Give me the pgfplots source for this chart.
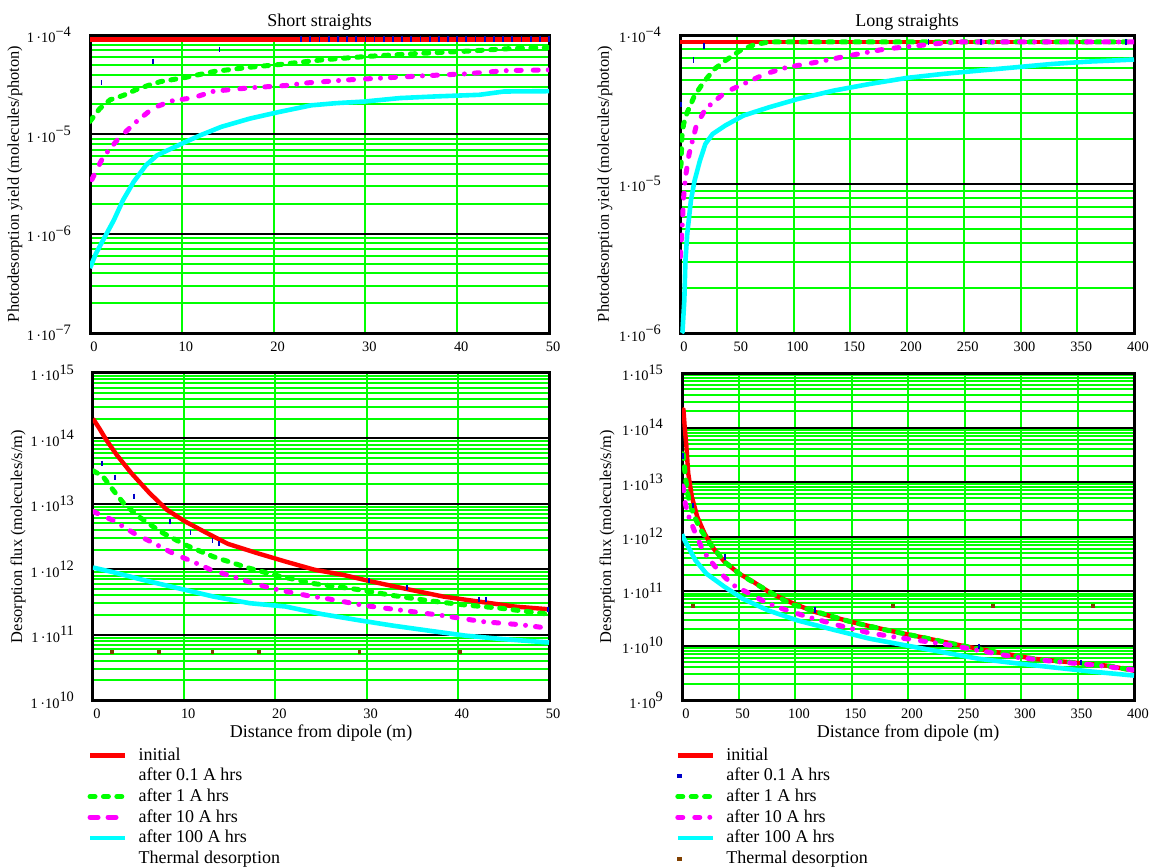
\documentclass[border=0pt]{standalone}
\usepackage{fontspec}
\setmainfont{Liberation Serif}
\usepackage{pgfplots}
\pgfplotsset{compat=1.18}
\definecolor{grn}{HTML}{00FF00}
\definecolor{cyn}{HTML}{00FFFF}
\definecolor{mag}{HTML}{FF00FF}
\definecolor{rd}{HTML}{FF0000}
\definecolor{blu}{HTML}{0000C8}
\definecolor{brn}{HTML}{804000}

% Mathcad style tick labels 1 .10^n
\newcommand{\ex}[1]{1\,·10\raisebox{3.3pt}{#1}}
\newcommand{\exr}[1]{1·10\raisebox{3.3pt}{#1}}

\pgfplotsset{
  panel/.style={
    scale only axis,
    font=\fontsize{9}{11}\selectfont,
    tick label style={font=\fontsize{7.2}{8}\selectfont},
    axis line style={line width=1.5pt},
    xmajorgrids, ymajorgrids, yminorgrids,
    major x grid style={grn, line width=1pt},
    major y grid style={black, line width=1pt},
    minor y grid style={grn, line width=1pt},
    major tick length=0pt, minor tick length=0pt,
    /pgf/number format/assume math mode=true,
    xticklabel style={yshift=-1pt, xshift=2pt},
    yticklabel style={xshift=-6pt},
    title style={yshift=-7pt},
    xlabel style={yshift=4pt},
    every axis y label/.style={at={([xshift=-37.5pt]rel axis cs:0,0.5)}, rotate=90,
      anchor=center, font=\fontsize{8.2}{10}\selectfont},
    legend cell align=left,
    legend image code/.code={\draw[##1] (0pt,0pt) -- (17.5pt,0pt); \path (21pt,0pt);},
    legend style={draw=none, fill=none, anchor=north west,
      font=\fontsize{9}{11}\selectfont, row sep=-1.5pt},
  },
  ini/.style={rd, line width=2.2pt},
  a01/.style={only marks, mark=|, mark size=1.3pt, blu, line width=0.9pt},
  a1/.style={grn, line width=2.5pt, line cap=round, dash pattern=on 2.5pt off 4.2pt},
  a10/.style={mag, line width=2.5pt, line cap=round, dash pattern=on 2.5pt off 6pt on 2.5pt off 5pt on 0pt off 5pt},
  a100/.style={cyn, line width=2.3pt},
  therm/.style={only marks, mark=square*, mark size=0.7pt, brn},
}

\begin{document}
\begin{tikzpicture}
\useasboundingbox (0pt,0pt) rectangle (575pt,-433.5pt);

% ---------- short straights, yield ----------
\begin{semilogyaxis}[panel, at={(45pt,-17.5pt)}, anchor=north west,
  width=229.5pt, height=149pt,
  xmin=0, xmax=50, xtick={0,10,...,50},
  ymin=1e-7, ymax=1e-4, ytick={1e-7,1e-6,1e-5,1e-4},
  yticklabels={\ex{−7},\ex{−6},\ex{−5},\ex{−4}},
  title={Short straights},
  ylabel={Photodesorption yield (molecules/photon)}]
\addplot[ini] coordinates {(0,9.05e-5) (50,9.05e-5)};
\addplot[a01] coordinates {(1.25,3.3e-5) (6.9,5.44e-5) (14.1,7.18e-5)
  (23,9.1e-5) (24,9.1e-5) (25,9.1e-5) (26,9.1e-5) (27,9.1e-5) (28,9.1e-5) (29,9.1e-5)
  (30,9.1e-5) (31,9.1e-5) (32,9.1e-5) (33,9.1e-5) (34,9.1e-5) (35,9.1e-5) (36,9.1e-5)
  (37,9.1e-5) (38,9.1e-5) (39,9.1e-5) (40,9.1e-5) (41,9.1e-5) (42,9.1e-5) (43,9.1e-5)
  (44,9.1e-5) (45,9.1e-5) (46,9.1e-5) (47,9.1e-5) (48,9.1e-5) (49,9.1e-5) (50,9.1e-5)};
\addplot[a1] coordinates {(0,1.35e-5) (1.05,1.81e-5) (2.2,2.23e-5) (3.6,2.46e-5) (5.0,2.81e-5)
  (6.3,3.10e-5) (7.7,3.40e-5) (10.2,3.71e-5) (13.5,4.29e-5) (17.4,4.74e-5) (20.6,5.04e-5)
  (25.2,5.61e-5) (30.3,6.1e-5) (36.2,6.55e-5) (40.8,6.86e-5) (46.3,7.35e-5) (50,7.46e-5)};
\addplot[a10] coordinates {(0.2,3.5e-6) (1.44,5.93e-6) (3.1,9.05e-6) (5.0,1.33e-5) (6.9,1.85e-5)
  (9.05,2.19e-5) (11.2,2.33e-5) (13.5,2.72e-5) (17.4,2.94e-5) (21.3,3.10e-5) (23.7,3.30e-5)
  (28.0,3.53e-5) (32.3,3.71e-5) (36.2,3.88e-5) (40.8,4.06e-5) (45.5,4.39e-5) (50,4.45e-5)};
\addplot[a100] coordinates {(0,4.5e-7) (0.66,6.35e-7) (1.83,1.01e-6) (2.6,1.37e-6) (3.6,2.18e-6)
  (4.76,3.33e-6) (6.1,4.89e-6) (7.3,6.15e-6) (8.85,7.18e-6) (10.4,8.38e-6) (12.0,9.77e-6)
  (14.3,1.19e-5) (17.4,1.44e-5) (20.6,1.68e-5) (24.1,1.96e-5) (26.8,2.06e-5) (29.9,2.14e-5)
  (33.8,2.32e-5) (37.7,2.41e-5) (42.4,2.50e-5) (45.1,2.70e-5) (50,2.72e-5)};
\end{semilogyaxis}

% ---------- long straights, yield ----------
\begin{semilogyaxis}[panel, at={(340pt,-17.5pt)}, anchor=north west,
  width=227pt, height=149pt,
  xmin=0, xmax=400, xtick={0,50,...,400},
  ymin=1e-6, ymax=1e-4, ytick={1e-6,1e-5,1e-4},
  yticklabels={\exr{−6},\exr{−5},\exr{−4}},
  title={Long straights},
  ylabel={Photodesorption yield (molecules/photon)}]
\addplot[ini] coordinates {(0,8.98e-5) (400,8.98e-5)};
\addplot[a01] coordinates {(1,3.41e-5) (11.8,6.8e-5) (20.8,8.43e-5) (219,8.98e-5) (265,8.98e-5) (393,8.98e-5)};
\addplot[a1] coordinates {(0.5,1.3e-5) (1.0,1.37e-5) (1.6,2.06e-5) (3.2,2.53e-5) (6.4,3.03e-5)
  (12.8,3.92e-5) (20.8,4.82e-5) (30.4,5.92e-5) (39.9,6.73e-5) (52.7,7.85e-5) (65.5,8.61e-5)
  (78.3,8.98e-5) (400,8.98e-5)};
\addplot[a10] coordinates {(0.3,3.24e-6) (1.6,4.64e-6) (3.2,8.17e-6) (4.8,1.11e-5) (8.0,1.59e-5)
  (14.4,2.47e-5) (22.4,3.19e-5) (39.9,4.13e-5) (52.7,4.57e-5) (75.1,5.48e-5) (94.2,6.07e-5)
  (119.8,6.56e-5) (148.6,7.26e-5) (180.5,8.05e-5) (209.3,8.48e-5) (231.6,8.84e-5)
  (247.6,8.98e-5) (400,8.98e-5)};
\addplot[a100] coordinates {(1.5,1.0e-6) (2.2,1.02e-6) (3.8,1.66e-6) (4.8,3.07e-6) (6.4,4.64e-6)
  (9.6,7.75e-6) (12.8,1.05e-5) (17.6,1.44e-5) (22.4,1.86e-5) (28.8,2.17e-5) (39.9,2.47e-5)
  (55.9,2.88e-5) (78.3,3.27e-5) (103.8,3.72e-5) (135.8,4.24e-5) (167.7,4.70e-5)
  (199.7,5.15e-5) (231.6,5.48e-5) (263.6,5.77e-5) (295.5,6.07e-5) (327.5,6.39e-5)
  (359.4,6.63e-5) (400,6.84e-5)};
\end{semilogyaxis}

% ---------- short straights, flux ----------
\begin{semilogyaxis}[panel, at={(46.5pt,-186.5pt)}, anchor=north west,
  width=228pt, height=163.5pt,
  xmin=0, xmax=50, xtick={0,10,...,50},
  ymin=1e10, ymax=1e15, ytick={1e10,1e11,1e12,1e13,1e14,1e15},
  yticklabels={\ex{10},\ex{11},\ex{12},\ex{13},\ex{14},\ex{15}},
  xlabel={Distance from dipole (m)},
  ylabel={Desorption flux (molecules/s/m)},
  legend style={at={(-0.026,-0.12)}}]
\addlegendimage{ini}\addlegendentry{initial}
\addlegendimage{legend image code/.code={}}\addlegendentry{after 0.1 A hrs}
\addlegendimage{a1}\addlegendentry{after 1 A hrs}
\addlegendimage{mag, line width=2.5pt, line cap=round, dash pattern=on 4pt off 5pt}\addlegendentry{after 10 A hrs}
\addlegendimage{a100}\addlegendentry{after 100 A hrs}
\addlegendimage{legend image code/.code={}}\addlegendentry{Thermal desorption}
\addplot[ini, forget plot] coordinates {(0,2.0e14) (0.67,1.44e14) (1.45,9.5e13) (2.6,5.6e13)
  (4.2,2.95e13) (6.2,1.46e13) (8.1,8.1e12) (10.1,5.37e12) (12.5,3.56e12) (14.8,2.44e12)
  (18.0,1.76e12) (21.1,1.31e12) (24.3,9.8e11) (27.4,8.2e11) (30.5,6.5e11) (34.5,4.94e11)
  (38.4,3.82e11) (42.3,3.2e11) (46.3,2.68e11) (50,2.44e11)};
\addplot[a01, forget plot] coordinates {(1.0,4.19e13) (2.44,2.56e13) (4.5,1.31e13) (8.4,5.37e12)
  (10.7,3.68e12) (13.1,2.75e12) (13.8,2.44e12) (30.3,6.7e11) (34.4,5.3e11) (42.3,3.44e11)
  (43.1,3.44e11) (49.9,2.44e11)};
\addplot[a1, forget plot] coordinates {(0,3.2e13) (1.06,2.65e13) (2.24,1.6e13) (3.4,1.0e13)
  (5.0,6.4e12) (7.35,3.78e12) (10.1,2.36e12) (13.2,1.55e12) (17.2,1.03e12) (20.3,7.9e11)
  (24.3,6.0e11) (29.0,4.9e11) (32.9,3.96e11) (36.8,3.3e11) (40.8,2.84e11) (44.7,2.53e11)
  (50,2.05e11)};
\addplot[a10, forget plot] coordinates {(0,7.64e12) (2.24,5.56e12) (4.6,3.47e12) (6.6,2.53e12)
  (8.9,1.71e12) (10.9,1.31e12) (12.85,9.9e11) (15.2,7.82e11) (17.2,6.33e11) (19.5,5.12e11)
  (21.1,4.6e11) (23.5,3.95e11) (25.8,3.52e11) (29.8,2.78e11) (34.1,2.33e11) (38.4,1.95e11)
  (42.7,1.58e11) (47.0,1.41e11) (50,1.25e11)};
\addplot[a100, forget plot] coordinates {(0,1.06e12) (2.24,8.99e11) (5.4,6.9e11) (10.1,4.83e11)
  (13.2,3.82e11) (17.2,3.02e11) (21.1,2.69e11) (25.0,2.07e11) (29.0,1.67e11) (32.9,1.37e11)
  (36.8,1.15e11) (40.8,9.66e10) (44.7,8.59e10) (50,7.57e10)};
\addplot[therm, forget plot] coordinates {(2.1,5.5e10) (7.2,5.5e10) (13.1,5.5e10) (18.2,5.5e10)
  (29.2,5.5e10) (40.2,5.5e10)};
\end{semilogyaxis}

% ---------- long straights, flux ----------
\begin{semilogyaxis}[panel, at={(341pt,-186.5pt)}, anchor=north west,
  width=226pt, height=163.5pt,
  xmin=0, xmax=400, xtick={0,50,...,400},
  ymin=1e9, ymax=1e15, ytick={1e9,1e10,1e11,1e12,1e13,1e14,1e15},
  yticklabels={\exr{9},\exr{10},\exr{11},\exr{12},\exr{13},\exr{14},\exr{15}},
  xlabel={Distance from dipole (m)},
  ylabel={Desorption flux (molecules/s/m)},
  legend style={at={(-0.029,-0.12)}}]
\addlegendimage{ini}\addlegendentry{initial}
\addlegendimage{legend image code/.code={\fill[blu] (0pt,-0.7pt) rectangle (1.8pt,0.7pt); \path (21pt,0pt);}}\addlegendentry{after 0.1 A hrs}
\addlegendimage{a1}\addlegendentry{after 1 A hrs}
\addlegendimage{a10}\addlegendentry{after 10 A hrs}
\addlegendimage{a100}\addlegendentry{after 100 A hrs}
\addlegendimage{legend image code/.code={\fill[brn] (0pt,-0.7pt) rectangle (1.8pt,0.7pt); \path (21pt,0pt);}}\addlegendentry{Thermal desorption}
\addplot[ini, forget plot] coordinates {(0,2.2e14) (1.3,2.11e14) (2.3,1.07e14) (3.9,4.5e13)
  (5.5,1.45e13) (8.7,5.37e12) (13.5,2.3e12) (20.0,1.13e12) (28.0,6.0e11) (37.7,3.42e11)
  (50.6,2.08e11) (63.4,1.46e11) (79.5,8.9e10) (98.9,5.85e10) (118.2,4.1e10) (150.4,2.69e10)
  (182.6,1.89e10) (214.8,1.38e10) (247.0,1.0e10) (279.2,7.5e9) (311.4,5.69e9) (343.6,4.93e9)
  (375.8,4.28e9) (400,3.47e9)};
\addplot[a01, forget plot] coordinates {(1,3.0e13) (9.6,3.66e12) (37.7,4.2e11) (117.5,4.5e10)
  (263,9.6e9) (353,4.8e9)};
\addplot[a1, forget plot] coordinates {(0.5,3.3e13) (1.3,3.14e13) (2.9,1.25e13) (5.5,5.37e12)
  (10.3,2.47e12) (16.7,1.31e12) (24.8,7.44e11) (37.7,3.42e11) (50.6,2.08e11) (69.9,1.19e11)
  (95.6,5.85e10) (120,4.1e10) (150,2.7e10) (182,1.9e10) (215,1.38e10) (247,1.0e10)
  (279,7.5e9) (311,5.7e9) (343,4.93e9) (376,4.28e9) (400,3.5e9)};
\addplot[a10, forget plot] coordinates {(0.5,8.5e12) (1.3,7.64e12) (2.9,4.05e12) (5.5,2.47e12)
  (11.9,1.13e12) (18.4,5.6e11) (24.8,3.66e11) (34.5,2.08e11) (45.7,1.27e11) (57.0,9.6e10)
  (69.9,6.9e10) (82.8,5.2e10) (111.7,3.32e10) (139.1,2.33e10) (166.4,1.69e10)
  (198.6,1.33e10) (230.8,1.07e10) (263,8.1e9) (295.3,6.1e9) (327.5,5.15e9) (369.3,4.29e9)
  (400,3.55e9)};
\addplot[a100, forget plot] coordinates {(0,1.1e12) (2.3,8.6e11) (5.5,6.46e11) (11.9,3.66e11)
  (21.6,2.08e11) (37.7,1.19e11) (53.8,7.2e10) (76.3,4.4e10) (102.1,2.89e10) (134.3,1.94e10)
  (166.4,1.33e10) (198.6,1.0e10) (230.8,7.54e9) (263,5.69e9) (295.3,4.73e9) (327.5,3.99e9)
  (359.7,3.37e9) (400,2.81e9)};
\addplot[therm, forget plot] coordinates {(9.3,5.3e10) (186.5,5.3e10) (275,5.3e10) (363.6,5.3e10)};
\end{semilogyaxis}
\end{tikzpicture}
\end{document}
